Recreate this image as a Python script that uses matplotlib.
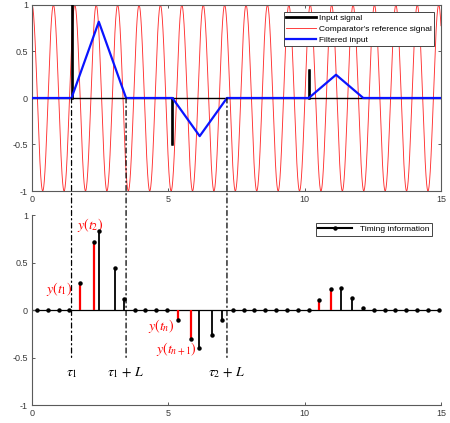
import numpy as np
import matplotlib
matplotlib.use("Agg")
import matplotlib.pyplot as plt
from matplotlib.lines import Line2D
from matplotlib.patches import ConnectionPatch
from matplotlib.legend_handler import HandlerLine2D

plt.rcParams['font.family'] = ['Liberation Sans', 'DejaVu Sans']
plt.rcParams['mathtext.fontset'] = 'stix'
plt.rcParams['axes.unicode_minus'] = False

# ---------------- data ----------------
x_limits = [0, 15]
y_limits = [-1, 1]
x_ticks = [0, 5, 10, 15]
y_ticks = [-1, -0.5, 0, 0.5, 1]
y_tick_labels = ['-1', '-0.5', '0', '0.5', '1']

# input impulses
input_times = [1.45, 5.15, 10.15]
input_heights = [1.0, -0.5, 0.3]

# comparator's reference signal: cosine, amplitude 1, period ~0.785
ref_amplitude = 1.0
ref_period = 0.785

# filtered input (triangle responses), vertices
filt_t = [0, 1.45, 2.45, 3.45, 5.15, 6.15, 7.15, 10.15, 11.15, 12.15, 15]
filt_y = [0, 0, 0.82, 0, 0, -0.41, 0, 0, 0.25, 0, 0]

# timing information (stems)
stem_t = [0.19, 0.59, 0.98, 1.37, 1.75, 2.28, 2.46, 3.04, 3.37,
          3.77, 4.16, 4.56, 4.96, 5.37, 5.82, 6.12, 6.59, 6.96,
          7.37, 7.77, 8.16, 8.56, 8.96, 9.36, 9.75, 10.15,
          10.54, 10.98, 11.32, 11.75, 12.14,
          12.54, 12.93, 13.33, 13.73, 14.13, 14.53, 14.92]
stem_v = [0, 0, 0, 0, 0.28, 0.72, 0.83, 0.44, 0.12,
          0, 0, 0, 0, -0.10, -0.31, -0.40, -0.26, -0.10,
          0, 0, 0, 0, 0, 0, 0, 0,
          0.11, 0.22, 0.23, 0.13, 0.02,
          0, 0, 0, 0, 0, 0, 0]
red_t = [1.75, 2.28, 5.37, 5.82, 10.54, 10.98]
red_v = [0.28, 0.72, -0.10, -0.31, 0.11, 0.22]

# annotations
red_labels = [r'$y(t_1)$', r'$y(t_2)$', r'$y(t_n)$', r'$y(t_{n+1})$']
red_label_x = [1.0, 2.12, 4.75, 5.3]
red_label_y = [0.22, 0.9, -0.17, -0.41]
tau_lines = [1.45, 3.45, 7.15]
tau_labels = [r'$\tau_1$', r'$\tau_1 \,+\, L$', r'$\tau_2 \,+\, L$']
tau_label_y = -0.66
tau_line_bottom = -0.52

# ---------------- figure ----------------
W, H = 450, 423
fig = plt.figure(figsize=(W / 100, H / 100), dpi=100)
ax1 = fig.add_axes([32 / W, 1 - 191 / H, 409 / W, 186 / H])
ax2 = fig.add_axes([32 / W, 1 - 405 / H, 409 / W, 190 / H])

spine_col = '#5a5a5a'
tick_col = '#3a3a3a'
for ax in (ax1, ax2):
    ax.set_xlim(x_limits)
    ax.set_ylim(y_limits)
    ax.set_xticks(x_ticks)
    ax.set_xticklabels([str(v) for v in x_ticks])
    ax.set_yticks(y_ticks)
    ax.set_yticklabels(y_tick_labels)
    ax.tick_params(direction='in', length=2.5, width=0.7, color=spine_col,
                   labelsize=6.5, labelcolor=tick_col, pad=3)
    for s in ax.spines.values():
        s.set_color(spine_col)
        s.set_linewidth(0.8)

ax1.tick_params(top=True, right=True)
ax2.spines['top'].set_visible(False)
ax2.spines['right'].set_visible(False)

# top plot
in_x, in_y = [x_limits[0]], [0]
for t, h in zip(input_times, input_heights):
    in_x += [t, t, t]
    in_y += [0, h, 0]
in_x.append(x_limits[1]); in_y.append(0)
t_dense = np.linspace(x_limits[0], x_limits[1], 3000)
ref = ref_amplitude * np.cos(2 * np.pi * t_dense / ref_period)

l_in, = ax1.plot(in_x, in_y, color='black', lw=1.0, zorder=3)
for t, h in zip(input_times, input_heights):
    ax1.plot([t, t], [0, h], color='black', lw=1.8, zorder=3)
l_ref, = ax1.plot(t_dense, ref, color='#ff3030', lw=0.65, zorder=2)
l_filt, = ax1.plot(filt_t, filt_y, color='#0a14ff', lw=1.6, zorder=4)

leg1 = ax1.legend([Line2D([], [], color='black', lw=2), l_ref, l_filt],
                  ['Input signal', "Comparator's reference signal", 'Filtered input'],
                  loc='upper right', bbox_to_anchor=(0.983, 0.962), borderaxespad=0,
                  fontsize=6, frameon=True, fancybox=False, framealpha=1,
                  edgecolor='#444444', handlelength=3.6, handletextpad=0.3,
                  labelspacing=0.35, borderpad=0.3)
leg1.get_frame().set_linewidth(0.7)

# bottom plot
ax2.plot(x_limits, [0, 0], color='black', lw=0.9, zorder=1)
ml, sl, bl = ax2.stem(stem_t, stem_v, linefmt='k-', markerfmt='ko', basefmt=' ')
sl.set_linewidth(1.3)
sl.set_zorder(2)
ml.set_markersize(2.2)
ml.set_zorder(5)
ax2.vlines(red_t, 0, red_v, colors='red', lw=1.6, zorder=3)


class EndMarkerHandler(HandlerLine2D):
    def get_xdata(self, legend, xdescent, ydescent, width, height, fontsize):
        xdata, _ = super().get_xdata(legend, xdescent, ydescent, width, height, fontsize)
        return xdata, np.array([xdata[-1]])


timing_handle = Line2D([], [], color='black', lw=1.5, marker='o', markersize=2.2)
leg2 = ax2.legend([timing_handle], ['Timing information'],
                  handler_map={timing_handle: EndMarkerHandler(numpoints=1)},
                  loc='upper right', bbox_to_anchor=(0.978, 0.958), borderaxespad=0,
                  fontsize=6, frameon=True, fancybox=False, framealpha=1,
                  edgecolor='#444444', handlelength=4.0, handletextpad=1.0,
                  borderpad=0.3)
leg2.get_frame().set_linewidth(0.7)

for txt, x, y in zip(red_labels, red_label_x, red_label_y):
    ax2.text(x, y, txt, color='red', fontsize=10, ha='center', va='center')

for x, txt in zip(tau_lines, tau_labels):
    cp = ConnectionPatch(xyA=(x, 0), coordsA=ax1.transData,
                         xyB=(x, tau_line_bottom), coordsB=ax2.transData,
                         linestyle=(0, (4, 2.5, 1, 2.5)), color='black', lw=0.9, zorder=10)
    fig.add_artist(cp)
    ax2.text(x, tau_label_y, txt, color='black', fontsize=10, ha='center', va='center')

fig.savefig('out.png', dpi=100)
